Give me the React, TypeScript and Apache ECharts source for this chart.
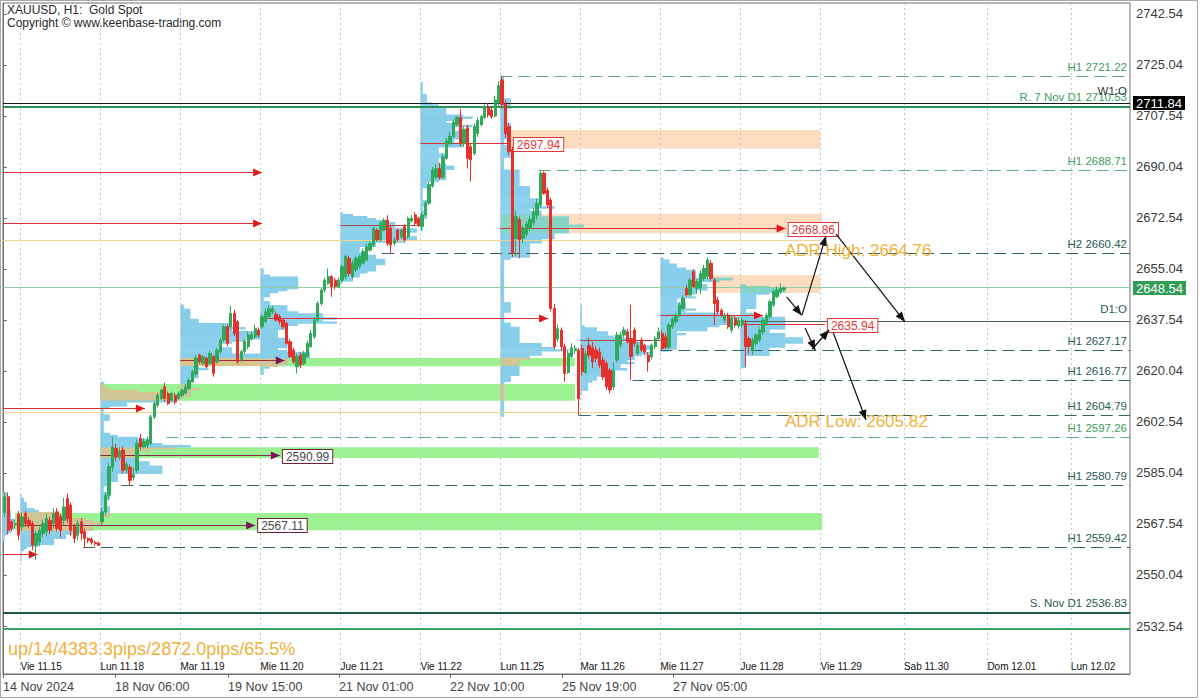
import React, { useEffect, useRef } from "react";
import * as echarts from "echarts";

type Candle = [number, number, number, number]; // open, close, low, high

// ---------- candles per trading session (H1) ----------
const thu14: Candle[] = [
  [2571.4, 2576.9, 2570.0, 2578.5],
  [2576.9, 2565.4, 2564.0, 2578.3],
  [2568.3, 2566.0, 2565.0, 2569.0],
  [2567.2, 2567.7, 2566.0, 2569.0],
  [2571.0, 2563.7, 2562.0, 2572.0],
];
const fri15: Candle[] = [
  [2566.6, 2570.0, 2565.0, 2571.5],
  [2571.2, 2567.7, 2566.5, 2572.0],
  [2568.8, 2567.1, 2566.0, 2570.0],
  [2567.7, 2560.3, 2558.5, 2568.5],
  [2560.3, 2564.3, 2555.2, 2565.0],
  [2561.4, 2565.4, 2560.0, 2566.5],
  [2564.3, 2567.7, 2563.0, 2569.0],
  [2564.9, 2569.4, 2563.5, 2571.0],
  [2568.8, 2565.4, 2564.0, 2570.0],
  [2567.7, 2571.2, 2566.0, 2573.0],
  [2571.7, 2566.0, 2565.0, 2573.0],
  [2570.0, 2565.4, 2563.0, 2571.0],
  [2568.8, 2573.4, 2567.0, 2576.5],
  [2576.3, 2569.4, 2568.0, 2578.0],
  [2574.0, 2565.4, 2563.5, 2575.0],
  [2566.6, 2562.6, 2561.0, 2567.5],
  [2563.7, 2567.7, 2562.0, 2569.0],
  [2568.3, 2564.3, 2562.0, 2569.5],
  [2564.9, 2562.6, 2559.42, 2566.0],
  [2562.6, 2562.0, 2561.0, 2563.0],
  [2562.3, 2561.2, 2560.5, 2563.0],
  [2561.2, 2560.8, 2560.0, 2561.8],
  [2561.0, 2560.2, 2560.0, 2561.5],
];
const mon18: Candle[] = [
  [2568.3, 2571.7, 2567.0, 2573.0],
  [2571.7, 2577.4, 2570.5, 2578.5],
  [2577.4, 2587.2, 2576.0, 2588.5],
  [2587.0, 2594.0, 2585.5, 2597.4],
  [2593.5, 2590.5, 2589.0, 2595.0],
  [2590.5, 2592.5, 2589.5, 2594.0],
  [2592.9, 2586.0, 2585.0, 2594.0],
  [2586.0, 2588.0, 2585.0, 2589.0],
  [2587.0, 2582.5, 2580.79, 2588.0],
  [2583.5, 2584.5, 2582.5, 2587.0],
  [2586.0, 2595.2, 2585.0, 2596.5],
  [2596.9, 2594.0, 2593.0, 2598.5],
  [2594.0, 2595.8, 2593.5, 2597.0],
  [2594.5, 2596.3, 2593.5, 2597.5],
  [2595.2, 2604.3, 2594.5, 2605.0],
  [2604.3, 2608.9, 2603.5, 2609.5],
  [2608.3, 2611.7, 2607.5, 2612.5],
  [2610.6, 2613.5, 2610.0, 2614.0],
  [2614.6, 2610.6, 2609.5, 2616.0],
  [2612.3, 2608.9, 2608.3, 2613.0],
  [2610.0, 2612.3, 2609.5, 2613.0],
  [2611.7, 2609.4, 2608.5, 2612.5],
  [2610.6, 2612.3, 2610.0, 2613.0],
];
const tue19: Candle[] = [
  [2611.7, 2613.5, 2611.0, 2614.0],
  [2612.5, 2614.6, 2612.0, 2615.5],
  [2614.0, 2616.9, 2613.5, 2617.5],
  [2616.3, 2619.8, 2616.0, 2620.5],
  [2619.0, 2624.5, 2618.0, 2625.5],
  [2625.5, 2623.2, 2622.5, 2626.0],
  [2622.6, 2624.9, 2622.0, 2625.5],
  [2624.4, 2621.5, 2621.0, 2625.0],
  [2622.6, 2626.1, 2622.0, 2627.0],
  [2624.9, 2619.2, 2618.1, 2625.5],
  [2623.2, 2627.2, 2622.5, 2628.0],
  [2626.7, 2630.7, 2626.0, 2631.5],
  [2630.7, 2635.2, 2630.0, 2636.0],
  [2635.2, 2629.5, 2628.5, 2636.0],
  [2635.2, 2639.8, 2634.5, 2642.5],
  [2639.8, 2632.9, 2632.0, 2641.0],
  [2636.9, 2623.2, 2622.5, 2637.5],
  [2623.8, 2626.7, 2623.0, 2627.5],
  [2626.7, 2630.1, 2626.0, 2631.0],
  [2628.4, 2632.4, 2627.5, 2633.5],
  [2631.0, 2632.5, 2630.5, 2633.5],
  [2631.8, 2634.7, 2631.0, 2636.0],
  [2634.1, 2632.4, 2631.5, 2635.0],
];
const wed20: Candle[] = [
  [2635.2, 2638.7, 2634.5, 2639.5],
  [2637.0, 2640.4, 2636.5, 2641.5],
  [2638.7, 2641.5, 2638.0, 2642.5],
  [2640.4, 2641.5, 2639.5, 2642.5],
  [2639.5, 2637.5, 2637.0, 2640.5],
  [2638.7, 2637.0, 2636.0, 2639.5],
  [2637.5, 2635.2, 2634.5, 2638.0],
  [2636.4, 2629.5, 2629.0, 2637.0],
  [2630.1, 2625.0, 2624.5, 2631.0],
  [2627.2, 2623.2, 2622.5, 2628.0],
  [2621.5, 2625.0, 2619.2, 2626.0],
  [2625.5, 2622.1, 2621.0, 2626.5],
  [2622.6, 2626.1, 2622.0, 2627.0],
  [2625.0, 2629.5, 2624.5, 2630.5],
  [2628.4, 2632.9, 2628.0, 2634.0],
  [2631.8, 2637.5, 2631.0, 2638.5],
  [2637.5, 2643.2, 2637.0, 2644.0],
  [2643.2, 2647.8, 2642.5, 2648.5],
  [2647.8, 2651.2, 2647.0, 2652.0],
  [2650.1, 2652.4, 2649.5, 2655.2],
  [2652.4, 2649.0, 2645.5, 2653.0],
  [2651.2, 2649.0, 2648.0, 2652.0],
  [2649.0, 2651.2, 2648.5, 2652.0],
];
const thu21: Candle[] = [
  [2651.2, 2655.8, 2650.5, 2656.5],
  [2652.4, 2659.3, 2651.5, 2660.0],
  [2658.7, 2653.5, 2652.5, 2659.5],
  [2652.4, 2657.0, 2651.5, 2658.0],
  [2654.7, 2658.7, 2654.0, 2659.5],
  [2655.8, 2659.3, 2655.0, 2660.0],
  [2657.0, 2661.0, 2656.5, 2662.0],
  [2658.1, 2662.7, 2657.5, 2663.5],
  [2661.5, 2663.8, 2661.0, 2664.5],
  [2663.3, 2669.0, 2662.5, 2669.5],
  [2668.4, 2665.0, 2664.5, 2669.0],
  [2665.0, 2670.7, 2664.5, 2671.5],
  [2668.4, 2671.8, 2668.0, 2672.5],
  [2671.8, 2663.8, 2663.0, 2673.5],
  [2669.0, 2663.3, 2660.42, 2670.0],
  [2663.8, 2665.0, 2663.0, 2666.0],
  [2668.4, 2665.0, 2664.5, 2669.0],
  [2666.0, 2668.4, 2665.5, 2669.0],
  [2669.6, 2665.0, 2664.5, 2670.5],
  [2666.1, 2672.4, 2665.5, 2673.0],
  [2671.5, 2672.4, 2671.0, 2673.5],
  [2673.6, 2670.7, 2670.0, 2674.5],
  [2672.4, 2670.1, 2669.5, 2673.0],
];
const fri22: Candle[] = [
  [2669.6, 2673.6, 2668.5, 2674.5],
  [2673.6, 2677.6, 2673.0, 2678.5],
  [2677.6, 2684.0, 2677.0, 2685.0],
  [2683.5, 2689.0, 2683.0, 2690.0],
  [2686.5, 2689.5, 2686.0, 2691.0],
  [2689.5, 2686.5, 2685.5, 2691.5],
  [2686.5, 2693.5, 2686.0, 2694.5],
  [2693.0, 2699.0, 2692.5, 2700.0],
  [2698.0, 2700.5, 2697.5, 2702.0],
  [2700.5, 2705.5, 2700.0, 2706.5],
  [2704.5, 2707.0, 2704.0, 2707.5],
  [2707.0, 2698.0, 2697.0, 2710.0],
  [2698.0, 2703.0, 2697.0, 2704.0],
  [2703.5, 2693.0, 2689.5, 2704.5],
  [2697.0, 2692.5, 2685.0, 2698.0],
  [2694.7, 2703.9, 2694.0, 2705.0],
  [2701.5, 2706.0, 2700.5, 2707.0],
  [2704.5, 2707.3, 2704.0, 2708.0],
  [2707.0, 2710.7, 2706.5, 2711.5],
  [2710.7, 2707.9, 2707.0, 2712.0],
  [2709.5, 2707.3, 2706.5, 2710.5],
  [2707.5, 2713.0, 2707.0, 2714.5],
  [2712.0, 2718.0, 2710.5, 2719.5],
];
const mon25: Candle[] = [
  [2719.9, 2711.5, 2710.5, 2721.22],
  [2711.5, 2701.5, 2700.0, 2713.0],
  [2703.9, 2695.3, 2694.0, 2705.0],
  [2696.0, 2660.3, 2659.2, 2697.0],
  [2665.5, 2673.0, 2659.5, 2675.0],
  [2672.0, 2665.0, 2658.7, 2673.0],
  [2665.5, 2668.5, 2664.0, 2670.0],
  [2667.0, 2670.5, 2666.0, 2671.5],
  [2669.0, 2672.0, 2668.0, 2673.0],
  [2671.0, 2674.5, 2670.0, 2676.0],
  [2673.5, 2677.5, 2672.0, 2679.2],
  [2677.0, 2687.9, 2676.0, 2688.71],
  [2687.9, 2681.0, 2680.5, 2688.5],
  [2682.0, 2677.0, 2676.0, 2683.0],
  [2678.7, 2641.5, 2640.5, 2679.5],
  [2641.5, 2628.4, 2627.5, 2643.0],
  [2631.0, 2634.5, 2630.0, 2636.0],
  [2634.0, 2628.4, 2627.0, 2635.0],
  [2628.4, 2619.2, 2616.4, 2629.5],
  [2619.5, 2626.1, 2619.0, 2627.0],
  [2625.0, 2628.0, 2624.5, 2629.6],
  [2627.0, 2627.8, 2626.0, 2629.0],
  [2627.2, 2610.5, 2604.79, 2628.0],
];
const tue26: Candle[] = [
  [2627.8, 2619.8, 2618.5, 2629.0],
  [2619.5, 2626.0, 2619.0, 2627.0],
  [2628.9, 2625.5, 2624.5, 2631.5],
  [2628.0, 2623.2, 2621.0, 2630.0],
  [2627.2, 2624.4, 2623.0, 2628.5],
  [2626.6, 2622.0, 2621.0, 2628.0],
  [2623.8, 2618.0, 2617.0, 2625.0],
  [2622.6, 2614.6, 2613.5, 2623.5],
  [2620.3, 2613.5, 2612.3, 2621.0],
  [2614.6, 2620.3, 2613.5, 2623.0],
  [2623.8, 2632.4, 2623.0, 2633.5],
  [2629.0, 2632.4, 2628.0, 2633.5],
  [2632.4, 2634.1, 2631.5, 2635.2],
  [2633.5, 2630.1, 2629.5, 2634.5],
  [2631.2, 2625.0, 2616.77, 2642.7],
  [2634.1, 2629.5, 2628.5, 2635.0],
  [2626.1, 2628.9, 2625.5, 2630.0],
  [2630.7, 2627.2, 2626.5, 2631.5],
  [2628.9, 2626.6, 2625.5, 2629.5],
  [2625.5, 2623.2, 2619.8, 2626.5],
  [2624.9, 2628.9, 2624.0, 2629.5],
  [2628.4, 2631.2, 2627.5, 2632.0],
  [2631.2, 2633.5, 2630.5, 2635.0],
];
const wed27: Candle[] = [
  [2632.9, 2627.8, 2627.17, 2634.0],
  [2631.8, 2628.2, 2627.5, 2633.0],
  [2628.2, 2635.8, 2627.6, 2636.5],
  [2635.2, 2637.8, 2634.5, 2638.5],
  [2637.0, 2639.2, 2636.0, 2640.0],
  [2639.2, 2642.7, 2638.5, 2643.5],
  [2641.5, 2645.0, 2641.0, 2646.0],
  [2648.4, 2646.1, 2645.5, 2649.5],
  [2646.1, 2651.2, 2645.5, 2652.0],
  [2654.1, 2649.0, 2648.5, 2655.0],
  [2648.4, 2650.7, 2646.5, 2651.5],
  [2648.5, 2653.5, 2646.5, 2654.5],
  [2651.8, 2655.3, 2651.0, 2656.5],
  [2652.4, 2658.1, 2651.5, 2659.0],
  [2657.0, 2651.8, 2651.0, 2658.0],
  [2651.2, 2643.2, 2635.8, 2652.0],
  [2644.4, 2640.4, 2639.5, 2645.5],
  [2640.9, 2639.2, 2638.5, 2641.5],
  [2637.5, 2639.2, 2636.5, 2640.0],
  [2639.2, 2635.2, 2634.5, 2640.0],
  [2634.1, 2638.1, 2633.0, 2639.0],
  [2638.1, 2635.8, 2635.0, 2639.0],
  [2635.5, 2637.5, 2634.5, 2638.5],
];
const thu28: Candle[] = [
  [2635.8, 2637.5, 2635.0, 2638.5],
  [2636.4, 2628.4, 2621.5, 2637.5],
  [2631.2, 2628.4, 2626.0, 2632.0],
  [2627.2, 2630.7, 2625.5, 2631.5],
  [2629.5, 2632.4, 2628.5, 2633.0],
  [2630.7, 2634.1, 2630.0, 2635.0],
  [2633.5, 2637.5, 2632.5, 2638.5],
  [2636.4, 2639.2, 2635.5, 2640.0],
  [2638.7, 2643.8, 2638.0, 2644.5],
  [2642.7, 2647.2, 2642.0, 2648.0],
  [2645.5, 2647.8, 2645.0, 2649.0],
  [2647.2, 2648.5, 2646.5, 2650.1],
  [2648.0, 2648.54, 2647.5, 2649.0],
];

const sessions = [thu14, fri15, mon18, tue19, wed20, thu21, fri22, mon25, tue26, wed27, thu28];
const sessionStart = [0, 5, 28, 51, 74, 97, 120, 143, 166, 189, 212];
const profileMaxWidth = [3.5, 23, 26, 32, 22, 22, 15, 24, 20, 29, 18];

// ---------- axes ----------
const SLOT_MAX = 324;
const Y_MIN = 2516.07;
const Y_MAX = 2746.31;
const yTickValues = [2532.54, 2550.04, 2567.54, 2585.04, 2602.54, 2620.04, 2637.54, 2655.04, 2672.54, 2690.04, 2707.54, 2725.04, 2742.54];
const dateTickSlots = [0, 32.2, 64.7, 96.6, 128.5, 160.7, 192.6];
const dateTickLabels = ["14 Nov 2024", "18 Nov 06:00", "19 Nov 15:00", "21 Nov 01:00", "22 Nov 10:00", "25 Nov 19:00", "27 Nov 05:00"];
const dayStartSlots = [5, 28, 51, 74, 97, 120, 143, 166, 189, 212, 235, 259, 283, 307];
const dayNames = ["Vie 11.15", "Lun 11.18", "Mar 11.19", "Mie 11.20", "Jue 11.21", "Vie 11.22", "Lun 11.25", "Mar 11.26", "Mie 11.27", "Jue 11.28", "Vie 11.29", "Sab 11.30", "Dom 12.01", "Lun 12.02"];

// ---------- levels ----------
const levelsDark: [number, number, string][] = [
  [2660.42, 109, "H2 2660.42"],
  [2627.17, 189, "H1 2627.17"],
  [2616.77, 181, "H1 2616.77"],
  [2604.79, 165.5, "H1 2604.79"],
  [2580.79, 34, "H1 2580.79"],
  [2559.42, 23, "H1 2559.42"],
];
const levelsLight: [number, number, string][] = [
  [2721.22, 143, "H1 2721.22"],
  [2688.71, 154, "H1 2688.71"],
  [2597.26, 47, "H1 2597.26"],
];
const weeklyOpen = 2711.84;
const resistanceR = 2710.53;
const lastPrice = 2648.54;
const dailyOpen = 2636.95;
const dailyOpenFrom = 212;
const supportS = 2536.83;
const supportLower = 2531.6;
const adrHigh = 2664.76;
const adrLow = 2605.82;
const adrEnd = 235;

// POC lines: [price, fromSlot, toSlot]
const pocArrowsRed: [number, number, number][] = [
  [2688.3, 0, 74.5],
  [2670.8, 0, 74.5],
  [2607.3, 0, 40.8],
  [2557.2, 0, 10],
  [2637.9, 74, 156.7],
  [2639.2, 189, 218.5],
];
const pocArrowsMaroon: [number, number, number][] = [[2623.5, 51, 81]];
const pocPlain: [number, number, number][] = [
  [2670.1, 97, 120],
  [2630.4, 166, 189],
];
// tagged POC: [price, fromSlot, toSlot, arrow(1/0)]
const pocTaggedRed: [number, number, number, number][] = [
  [2697.94, 120, 146, 0],
  [2668.86, 143, 225, 1],
  [2635.94, 212, 236.3, 0],
];
const pocTaggedMaroon: [number, number, number, number][] = [
  [2590.99, 28, 79.6, 1],
  [2567.11, 5, 72.5, 1],
];

// zones: [fromSlot, toSlot, low, high]
const greenZones: [number, number, number, number][] = [
  [28, 164.5, 2609.8, 2615.6],
  [51, 164.5, 2621.7, 2624.5],
  [28, 234.5, 2590.2, 2593.9],
  [3.5, 235.5, 2565.4, 2571.3],
];
const peachZones: [number, number, number, number][] = [
  [145.8, 235, 2696.4, 2702.7],
  [143, 235.5, 2667.3, 2673.9],
  [204, 235, 2646.8, 2653.0],
];

// projection arrows: [x1, p1, x2, p2]
const projection: [number, number, number, number][] = [
  [225.3, 2645.5, 229.6, 2639.2],
  [229.7, 2639.2, 236.6, 2666.4],
  [239.5, 2667.0, 259.3, 2636.9],
  [230.6, 2634.8, 233.5, 2627.2],
  [232.6, 2627.5, 237.5, 2634.1],
  [238.6, 2633.4, 248.1, 2603.2],
];

const FONT = '"Liberation Sans", Arial, Helvetica, sans-serif';
const C_UP = "#2fa95a";
const C_DN = "#e4312b";
const C_BLUE = "#87ceeb";
const C_TAN = "#d9c48c";
const C_TEAL = "#86d5c4";
const C_GREENZ = "#9cf193";
const C_PEACH = "#fddcbf";
const C_DARK = "#2e6a5c";
const C_DARK_T = "#2b5b52";
const C_LIGHT = "#5caf7b";
const C_LIGHT_T = "#3f9c61";
const C_ADR = "#f1b13a";

const BIN = 0.7;
const PROFILE_SHARPNESS = 1.5;

function buildProfiles(): number[][] {
  const rows: number[][] = [];
  sessions.forEach((day, d) => {
    const lo = Math.min(...day.map((c) => c[2]));
    const hi = Math.max(...day.map((c) => c[3]));
    const tmp: [number, number][] = [];
    for (let p = lo; p <= hi; p += BIN) {
      const n = day.filter((c) => c[2] <= p + BIN / 2 && c[3] >= p - BIN / 2).length;
      tmp.push([p, n]);
    }
    const m = Math.max(...tmp.map((t) => t[1]));
    tmp.forEach(([p, n]) => rows.push([sessionStart[d], p, Math.pow(n / m, PROFILE_SHARPNESS) * profileMaxWidth[d]]));
  });
  return rows;
}

function crisp(y: number, w: number) {
  return w % 2 === 1 ? Math.round(y - 0.5) + 0.5 : Math.round(y);
}

function txt(x: number, y: number, text: string, fill: string, font: string, align: string, vAlign: string, extra: any = {}) {
  return {
    type: "text",
    x,
    y,
    silent: true,
    style: {
      text,
      fill,
      textFill: fill,
      font,
      align,
      textAlign: align,
      verticalAlign: vAlign,
      textVerticalAlign: vAlign,
      ...extra,
    },
  };
}

function head(x1: number, y1: number, x2: number, y2: number, L: number, W: number, fill: string) {
  const dx = x2 - x1;
  const dy = y2 - y1;
  const len = Math.hypot(dx, dy) || 1;
  const ux = dx / len;
  const uy = dy / len;
  const bx = x2 - ux * L;
  const by = y2 - uy * L;
  const px = (-uy * W) / 2;
  const py = (ux * W) / 2;
  return {
    type: "polygon",
    shape: { points: [[x2, y2], [bx + px, by + py], [bx - px, by - py]] },
    style: { fill },
  };
}

function buildLineItems() {
  const items: any[] = [];
  dayStartSlots.forEach((s) => items.push({ k: "v", s }));
  [adrHigh, adrLow].forEach((p) => items.push({ k: "h", p, from: 0, to: adrEnd, stroke: "#f4d48c", width: 1 }));
  levelsDark.forEach(([p, from, text]) =>
    items.push({ k: "h", p, from, to: SLOT_MAX, stroke: C_DARK, width: 1, dash: [12, 6], text, tc: C_DARK_T })
  );
  levelsLight.forEach(([p, from, text]) =>
    items.push({ k: "h", p, from, to: SLOT_MAX, stroke: C_LIGHT, width: 1, dash: [12, 6], text, tc: C_LIGHT_T })
  );
  items.push({ k: "h", p: resistanceR, from: 0, to: SLOT_MAX, stroke: "#2f8f55", width: 2, text: "R. 7 Nov D1 2710.53", tc: C_LIGHT_T });
  items.push({ k: "h", p: weeklyOpen, from: 0, to: SLOT_MAX, stroke: "#1a1a1a", width: 1, text: "W1:O", tc: "#333333", tdy: -3 });
  items.push({ k: "h", p: lastPrice, from: 0, to: SLOT_MAX, stroke: "#8fcca3", width: 1 });
  items.push({ k: "h", p: dailyOpen, from: dailyOpenFrom, to: SLOT_MAX, stroke: "#4a5f5a", width: 1, text: "D1:O", tc: C_DARK_T, tdy: -3 });
  items.push({ k: "h", p: supportS, from: 0, to: SLOT_MAX, stroke: "#1d5a48", width: 2, text: "S. Nov D1 2536.83", tc: C_DARK_T });
  items.push({ k: "h", p: supportLower, from: 0, to: SLOT_MAX, stroke: "#39a562", width: 2 });
  pocPlain.forEach(([p, from, to]) => items.push({ k: "h", p, from, to, stroke: "#b24545", width: 1 }));
  pocArrowsRed.forEach(([p, from, to]) => items.push({ k: "h", p, from, to, stroke: "#d83030", width: 1, head: "#e8161c" }));
  pocArrowsMaroon.forEach(([p, from, to]) => items.push({ k: "h", p, from, to, stroke: "#9b2c3c", width: 1, head: "#7c145c" }));
  pocTaggedRed.forEach(([p, from, to, a]) =>
    items.push({ k: "h", p, from, to, stroke: "#d83030", width: 1, head: a ? "#e8161c" : null })
  );
  pocTaggedMaroon.forEach(([p, from, to, a]) =>
    items.push({ k: "h", p, from, to, stroke: "#8a2a48", width: 1, head: a ? "#7c145c" : null })
  );
  return items;
}

function buildAnnotations() {
  const items: any[] = [];
  pocTaggedRed.forEach(([p, , to]) => items.push({ k: "box", p, to, text: p.toFixed(2), border: "#e03a3a", color: "#e03a3a" }));
  pocTaggedMaroon.forEach(([p, , to]) => items.push({ k: "box", p, to, text: p.toFixed(2), border: "#6e2438", color: "#4a4a4a" }));
  projection.forEach((s) => items.push({ k: "seg", s }));
  items.push({ k: "adr", x: 224.8, p: adrHigh, text: "ADR High: 2664.76" });
  items.push({ k: "adr", x: 224.8, p: adrLow, text: "ADR Low: 2605.82" });
  items.push({ k: "tag", p: weeklyOpen, bg: "#000000" });
  items.push({ k: "tag", p: lastPrice, bg: "#2f9e55" });
  return items;
}

const lineItems = buildLineItems();
const annItems = buildAnnotations();
const profileRows = buildProfiles();

function buildOption() {
  const candleData: number[][] = [];
  sessions.forEach((day, d) =>
    day.forEach((c, i) => candleData.push([sessionStart[d] + i + 0.5, c[0], c[1], c[2], c[3]]))
  );
  const zoneData = [
    ...greenZones.map((z) => [z[0], z[2], z[1], z[3], 0]),
    ...peachZones.map((z) => [z[0], z[2], z[1], z[3], 1]),
  ];
  const dateLabel = (v: number) => {
    const i = dateTickSlots.findIndex((s) => Math.abs(s - v) < 1e-6);
    return i >= 0 ? dateTickLabels[i] : "";
  };
  const dayLabel = (v: number) => {
    const i = dayStartSlots.findIndex((s) => Math.abs(s - v) < 1e-6);
    return i >= 0 ? dayNames[i] : "";
  };

  return {
    animation: false,
    backgroundColor: "#ffffff",
    grid: { left: 3, right: 70, top: 3, bottom: 26, show: true, borderColor: "#6f6f6f", borderWidth: 1, backgroundColor: "transparent" },
    xAxis: [
      {
        type: "value",
        min: 0,
        max: SLOT_MAX,
        position: "bottom",
        axisLine: { show: true, lineStyle: { color: "#6f6f6f" } },
        axisTick: { show: true, customValues: dateTickSlots, length: 4, lineStyle: { color: "#6f6f6f" } },
        axisLabel: {
          customValues: dateTickSlots,
          formatter: dateLabel,
          align: "left",
          color: "#444444",
          fontFamily: FONT,
          fontSize: 12.5,
          margin: 6,
          showMinLabel: true,
          showMaxLabel: true,
        },
        splitLine: { show: false },
      },
      {
        type: "value",
        min: 0,
        max: SLOT_MAX,
        position: "bottom",
        axisLine: { show: false },
        axisTick: { show: false },
        axisLabel: {
          inside: true,
          customValues: dayStartSlots,
          formatter: dayLabel,
          align: "left",
          color: "#111111",
          fontFamily: FONT,
          fontSize: 10,
          margin: 3,
        },
        splitLine: { show: false },
      },
    ],
    yAxis: {
      type: "value",
      position: "right",
      min: Y_MIN,
      max: Y_MAX,
      axisLine: { show: true, lineStyle: { color: "#6f6f6f" } },
      axisTick: { show: true, customValues: yTickValues, length: 4, lineStyle: { color: "#6f6f6f" } },
      axisLabel: {
        customValues: yTickValues,
        formatter: (v: number) => v.toFixed(2),
        color: "#3c3c3c",
        fontFamily: FONT,
        fontSize: 13,
        margin: 6,
      },
      splitLine: { show: false },
    },
    series: [
      {
        type: "custom",
        name: "zones",
        z: 1,
        silent: true,
        data: zoneData,
        encode: { x: 0, y: 1 },
        renderItem: (params: any, api: any) => {
          const a = api.coord([api.value(0), api.value(3)]);
          const b = api.coord([api.value(2), api.value(1)]);
          return {
            type: "rect",
            shape: { x: a[0], y: a[1], width: b[0] - a[0], height: b[1] - a[1] },
            style: { fill: api.value(4) === 0 ? C_GREENZ : C_PEACH },
          };
        },
      },
      {
        type: "custom",
        name: "profiles",
        z: 2,
        silent: true,
        data: profileRows,
        encode: { x: 0, y: 1 },
        renderItem: (params: any, api: any) => {
          const s = api.value(0);
          const p = api.value(1);
          const w = api.value(2);
          const top = p + BIN / 2;
          const bot = p - BIN / 2;
          const r = (x1: number, x2: number, fill: string) => {
            const c1 = api.coord([x1, top]);
            const c2 = api.coord([x2, bot]);
            return { type: "rect", shape: { x: c1[0], y: c1[1], width: c2[0] - c1[0], height: c2[1] - c1[1] + 0.4 }, style: { fill } };
          };
          const children: any[] = [r(s, s + w, C_BLUE)];
          greenZones.forEach((z) => {
            if (p >= z[2] && p <= z[3]) {
              const a = Math.max(s, z[0]);
              const b = Math.min(s + w, z[1]);
              if (b > a) children.push(r(a, b, C_TAN));
            }
          });
          peachZones.forEach((z) => {
            if (p >= z[2] && p <= z[3]) {
              const a = Math.max(s, z[0]);
              const b = Math.min(s + w, z[1]);
              if (b > a) children.push(r(a, b, C_TEAL));
            }
          });
          return { type: "group", children };
        },
      },
      {
        type: "custom",
        name: "lines",
        z: 3,
        silent: true,
        data: lineItems.map((_, i) => [i, 2600]),
        renderItem: (params: any, api: any) => {
          const it = lineItems[params.dataIndex];
          const els: any[] = [];
          if (it.k === "v") {
            const a = api.coord([it.s, Y_MAX]);
            const b = api.coord([it.s, Y_MIN]);
            const x = Math.round(a[0]) + 0.5;
            els.push({ type: "line", shape: { x1: x, y1: a[1], x2: x, y2: b[1] }, style: { stroke: "#c6c6c6", lineWidth: 1, lineDash: [2, 3] } });
          } else {
            const a = api.coord([it.from, it.p]);
            const b = api.coord([it.to, it.p]);
            const y = crisp(a[1], it.width);
            const style: any = { stroke: it.stroke, lineWidth: it.width };
            if (it.dash) style.lineDash = it.dash;
            els.push({ type: "line", shape: { x1: a[0], y1: y, x2: b[0], y2: y }, style });
            if (it.head) els.push(head(a[0], y, b[0], y, 9, 8, it.head));
            if (it.text) {
              els.push(txt(b[0] - 3, y - it.width / 2 - 3 + (it.tdy || 0), it.text, it.tc, `11.5px ${FONT}`, "right", "bottom"));
            }
          }
          return { type: "group", children: els };
        },
      },
      {
        type: "candlestick",
        name: "XAUUSD",
        z: 4,
        silent: true,
        data: candleData,
        encode: { x: 0, y: [1, 2, 3, 4] },
        barWidth: 2.8,
        itemStyle: { color: C_UP, color0: C_DN, borderColor: C_UP, borderColor0: C_DN, borderWidth: 1 },
      },
      {
        type: "custom",
        name: "annotations",
        z: 6,
        silent: true,
        clip: false,
        data: annItems.map((_, i) => [i, 2600]),
        renderItem: (params: any, api: any) => {
          const it = annItems[params.dataIndex];
          const els: any[] = [];
          if (it.k === "box") {
            const b = api.coord([it.to, it.p]);
            els.push(
              txt(b[0] + 3, Math.round(b[1]) + 0.5, it.text, it.color, `12px ${FONT}`, "left", "middle", {
                backgroundColor: "#ffffff",
                textBackgroundColor: "#ffffff",
                borderColor: it.border,
                textBorderColor: it.border,
                borderWidth: 1,
                textBorderWidth: 1,
                padding: [1, 3, 0, 3],
                textPadding: [1, 3, 0, 3],
              })
            );
          } else if (it.k === "seg") {
            const [x1, p1, x2, p2] = it.s;
            const a = api.coord([x1, p1]);
            const b = api.coord([x2, p2]);
            els.push({ type: "line", shape: { x1: a[0], y1: a[1], x2: b[0], y2: b[1] }, style: { stroke: "#111111", lineWidth: 1.2 } });
            els.push(head(a[0], a[1], b[0], b[1], 10, 8, "#111111"));
          } else if (it.k === "adr") {
            const a = api.coord([it.x, it.p]);
            els.push(txt(a[0], a[1] + 1, it.text, C_ADR, `17px ${FONT}`, "left", "top"));
          } else if (it.k === "tag") {
            const a = api.coord([SLOT_MAX, it.p]);
            els.push(
              txt(a[0] + 3, Math.round(a[1]), it.p.toFixed(2), "#ffffff", `13px ${FONT}`, "left", "middle", {
                backgroundColor: it.bg,
                textBackgroundColor: it.bg,
                padding: [1, 3, 0, 3],
                textPadding: [1, 3, 0, 3],
              })
            );
          }
          return { type: "group", children: els };
        },
      },
    ],
    graphic: [
      { type: "rect", silent: true, z: -1, shape: { x: 0.5, y: 0.5, width: 1197, height: 697 }, style: { fill: "none", stroke: "#a8a8a8", lineWidth: 1 } },
      { type: "text", left: 7, top: 4, silent: true, style: { text: "XAUUSD, H1:  Gold Spot", fill: "#2a2a2a", font: `12px ${FONT}` } },
      { type: "text", left: 7, top: 17, silent: true, style: { text: "Copyright © www.keenbase-trading.com", fill: "#2a2a2a", font: `12px ${FONT}` } },
      { type: "text", left: 8, top: 640, silent: true, style: { text: "up/14/4383.3pips/2872.0pips/65.5%", fill: C_ADR, font: `18px ${FONT}` } },
    ],
  };
}

export default function App() {
  const ref = useRef<HTMLDivElement>(null);
  useEffect(() => {
    if (!ref.current) return;
    const chart = echarts.init(ref.current, null, { renderer: "svg" });
    chart.setOption(buildOption() as any);
    return () => chart.dispose();
  }, []);
  return (
    <div
      ref={ref}
      style={{ position: "fixed", left: 0, top: 0, width: 1200, height: 700, background: "#ffffff" }}
    />
  );
}
